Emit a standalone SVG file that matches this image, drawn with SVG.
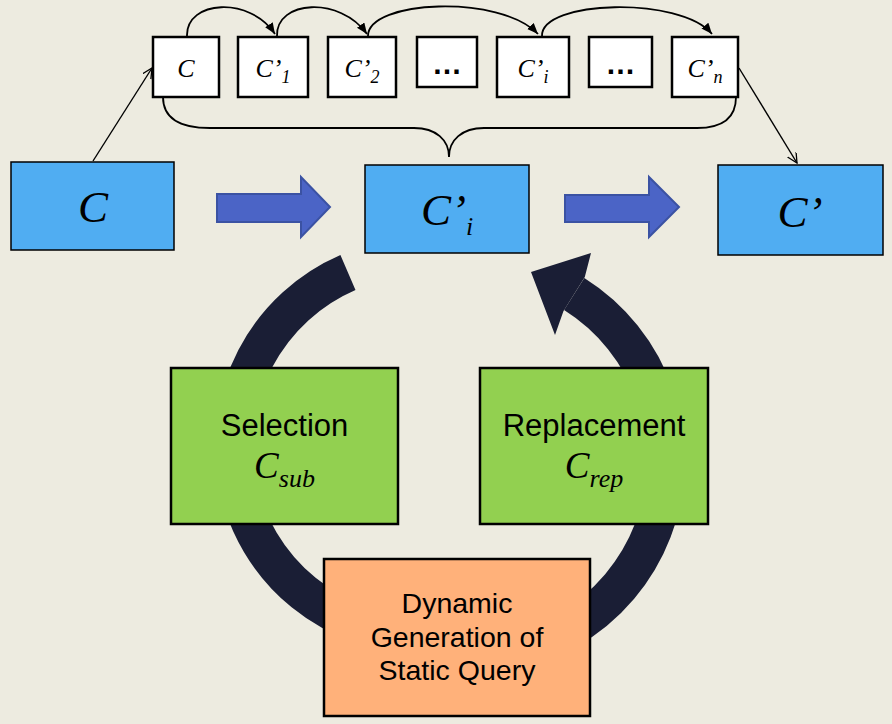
<svg xmlns="http://www.w3.org/2000/svg" width="892" height="724" viewBox="0 0 892 724">
<style>
.bg{fill:#EDEBE0}
.blue{fill:#50ADF2;stroke:#000;stroke-width:1.5}
.white{fill:#fff;stroke:#000;stroke-width:2.5}
.green{fill:#92D050;stroke:#000;stroke-width:2.5}
.orange{fill:#FFB17A;stroke:#000;stroke-width:2.5}
.barrow{fill:#4B64C6;stroke:#3B52A3;stroke-width:2}
.ring{fill:none;stroke:#1A1E35;stroke-width:38;stroke-linecap:butt}
.thin{fill:none;stroke:#000;stroke-width:1.4}
.curve{fill:none;stroke:#000;stroke-width:1.8}
.math{font-family:"Liberation Serif","Times New Roman",serif;font-style:italic;fill:#000}
.sans{font-family:"Liberation Sans",Arial,sans-serif;fill:#000}
</style>
<defs>
<marker id="fillArrow" markerUnits="userSpaceOnUse" markerWidth="12" markerHeight="10" refX="11" refY="4.5" orient="auto">
<path d="M0,0 L11,4.5 L0,9 z" fill="#000"/>
</marker>
<marker id="openArrow" markerUnits="userSpaceOnUse" markerWidth="12" markerHeight="12" refX="10" refY="5" orient="auto">
<path d="M0,0 L10,5 L0,10" fill="none" stroke="#000" stroke-width="1.3"/>
</marker>
</defs>
<rect class="bg" x="0" y="0" width="892" height="724"/>

<g id="connectors">
<path class="curve" d="M187,36 C186,0 250,-4 275,34" marker-end="url(#fillArrow)"/>
<path class="curve" d="M277,36 C276,0 340,-4 367,34" marker-end="url(#fillArrow)"/>
<path class="curve" d="M368,36 C368,0 500,-6 538,34" marker-end="url(#fillArrow)"/>
<path class="curve" d="M542,36 C541,0 680,-4 712,34" marker-end="url(#fillArrow)"/>
<path class="curve" d="M163,97 C163,118 180,128 210,128 L414,128 C436,128 449,140 449,157 C449,140 462,128 484,128 L697,128 C722,128 736,118 736,97"/>
<path class="thin" d="M93,161 L152,68" marker-end="url(#openArrow)"/>
<path class="thin" d="M739,68 L797,163" marker-end="url(#openArrow)"/>
<polygon class="barrow" points="217,194 301,194 301,177 330,207 301,237 301,222 217,222"/>
<polygon class="barrow" points="565,195 649,195 649,177 679,207 649,237 649,222 565,222"/>
<g id="cycle">
<path class="ring" d="M347.95,272.5 A189,189 0 0 0 423,635"/>
<path class="ring" d="M574.2,294 A196,196 0 0 1 436,653"/>
<polygon points="531,272 591,253 584.8,277 563.5,311 555,335" fill="#1A1E35"/>
</g>
</g>

<g id="node-C">
<rect class="blue" x="11" y="162" width="163" height="88"/>
<text class="math" x="93" y="222" font-size="45" text-anchor="middle">C</text>
</g>
<g id="node-Ci">
<rect class="blue" x="365" y="165" width="164" height="88"/>
<text class="math" x="447" y="225" font-size="45" text-anchor="middle">C’<tspan font-size="26" dy="10">i</tspan></text>
</g>
<g id="node-Cprime">
<rect class="blue" x="718" y="165" width="165" height="90"/>
<text class="math" x="800" y="227" font-size="45" text-anchor="middle">C’</text>
</g>

<g id="seq-C">
<rect class="white" x="153" y="37" width="66" height="60"/>
<text class="math" x="186" y="77" font-size="26" text-anchor="middle">C</text>
</g>
<g id="seq-C1">
<rect class="white" x="238" y="37" width="70" height="60"/>
<text class="math" x="273" y="77" font-size="26" text-anchor="middle">C’<tspan font-size="18" dy="6">1</tspan></text>
</g>
<g id="seq-C2">
<rect class="white" x="328" y="37" width="68" height="60"/>
<text class="math" x="362" y="77" font-size="26" text-anchor="middle">C’<tspan font-size="18" dy="6">2</tspan></text>
</g>
<g id="seq-dots1">
<rect class="white" x="417" y="37" width="60" height="50"/>
<text class="sans" x="447" y="74" font-size="30" font-weight="bold" text-anchor="middle">…</text>
</g>
<g id="seq-Ci">
<rect class="white" x="497" y="37" width="72" height="60"/>
<text class="math" x="533" y="77" font-size="26" text-anchor="middle">C’<tspan font-size="18" dy="6">i</tspan></text>
</g>
<g id="seq-dots2">
<rect class="white" x="589" y="37" width="63" height="50"/>
<text class="sans" x="620.5" y="74" font-size="30" font-weight="bold" text-anchor="middle">…</text>
</g>
<g id="seq-Cn">
<rect class="white" x="672" y="37" width="66" height="60"/>
<text class="math" x="705" y="77" font-size="26" text-anchor="middle">C’<tspan font-size="18" dy="6">n</tspan></text>
</g>

<g id="node-selection">
<rect class="green" x="171" y="368" width="227" height="156"/>
<text class="sans" x="284.5" y="436" font-size="31" text-anchor="middle">Selection</text>
<text class="math" x="284.5" y="478" font-size="37" text-anchor="middle">C<tspan font-size="26" dy="9">sub</tspan></text>
</g>
<g id="node-replacement">
<rect class="green" x="480" y="368" width="228" height="156"/>
<text class="sans" x="594" y="436" font-size="31" text-anchor="middle">Replacement</text>
<text class="math" x="594" y="478" font-size="37" text-anchor="middle">C<tspan font-size="26" dy="9">rep</tspan></text>
</g>
<g id="node-dynamic">
<rect class="orange" x="324" y="559" width="266" height="157"/>
<text class="sans" x="457" y="613" font-size="28.5" text-anchor="middle">Dynamic</text>
<text class="sans" x="457" y="647" font-size="28.5" text-anchor="middle">Generation of</text>
<text class="sans" x="457" y="680" font-size="28.5" text-anchor="middle">Static Query</text>
</g>
</svg>
